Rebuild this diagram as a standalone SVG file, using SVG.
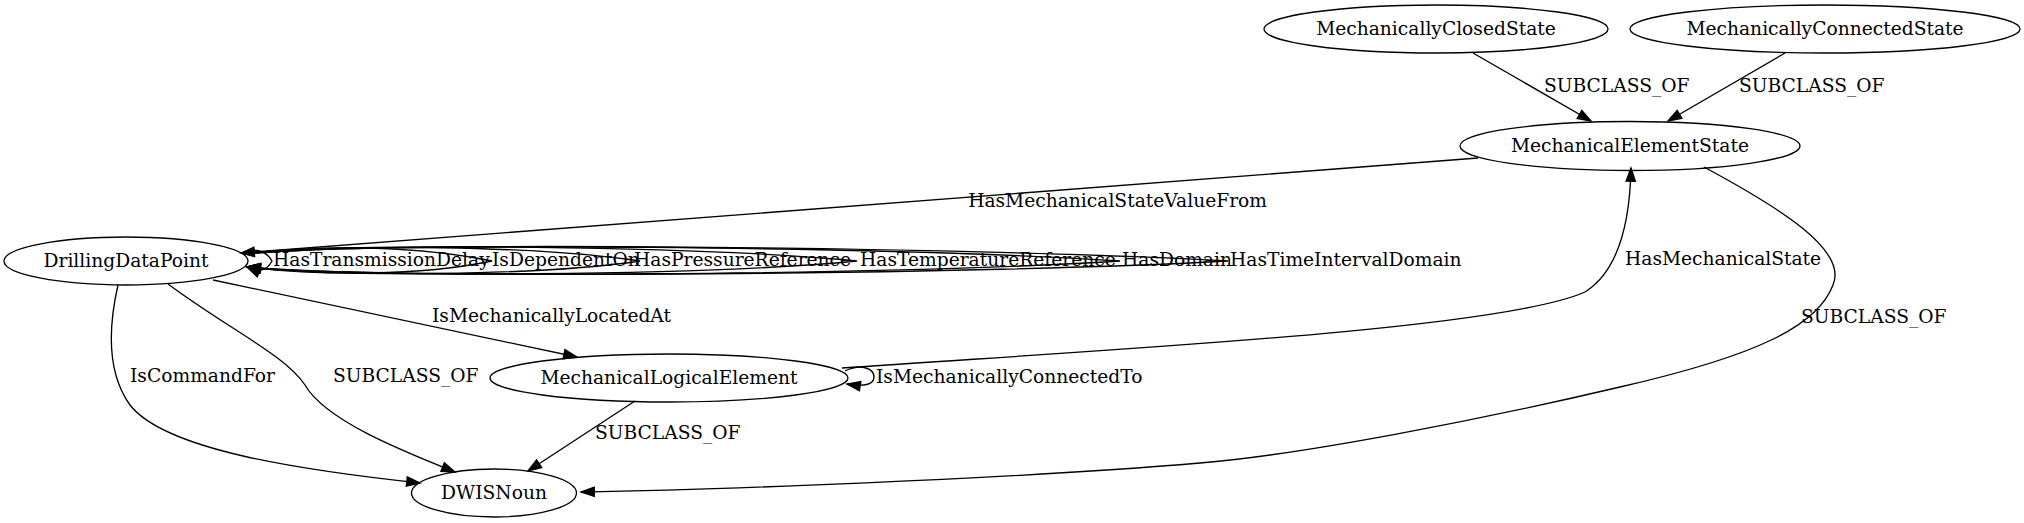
<svg xmlns="http://www.w3.org/2000/svg" width="2024" height="523" viewBox="0 0 2024 523">
<style>
text{font-family:"DejaVu Serif","Liberation Serif",serif;font-size:18.67px;fill:#000}
.n{text-anchor:middle}
ellipse{fill:none;stroke:#000;stroke-width:1.33}
.e path{fill:none;stroke:#000;stroke-width:1.33;marker-end:url(#a)}
</style>
<defs>
<marker id="a" markerUnits="userSpaceOnUse" markerWidth="14" markerHeight="10" refX="13.3" refY="4.67" orient="auto" overflow="visible">
<path d="M0,0 L13.3,4.67 L0,9.33 Z" fill="#000" stroke="#000" stroke-width="1.33"/>
</marker>
</defs>
<rect width="2024" height="523" fill="#fff"/>
<g id="edges" class="e">
<path d="M1473,53 L1591,121"/>
<path d="M1785,53 L1668,121"/>
<path d="M1478,158 L241,253"/>
<path d="M213,280 L577,357"/>
<path d="M118,285 C110,320 105,370 130,405 C165,450 300,470 420,483"/>
<path d="M168,284 C230,330 285,355 305,385 C325,420 400,450 455,472"/>
<path d="M635,401 L528,471"/>
<path d="M842,368 C1100,350 1500,330 1585,292 C1620,270 1630,220 1631,168"/>
<path d="M1704,167 C1780,208 1848,250 1833,285 C1818,325 1760,355 1620,387 C1480,420 1300,455 1200,463 C1000,480 700,490 581,492"/>
<path d="M845,371 C862,363 874,369 874,377 C874,384 866,387 847,384"/>
<path d="M244,254 C252,247 266,250 272,261 C266,272 258,272 247,267"/>
<path d="M244,254 C320,244 420,246 492,261 C420,276 320,276 247,267"/>
<path d="M244,254 C340,243 540,246 640,261 C540,276 340,277 247,267"/>
<path d="M244,254 C360,242 700,246 857,261 C700,276 360,278 247,267"/>
<path d="M244,254 C380,241 900,247 1120,261 C900,275 380,279 247,267"/>
<path d="M244,254 C400,240 1000,248 1228,261 C1000,274 400,280 247,267"/>
</g>
<g id="edge-labels">
<text x="1544" y="92">SUBCLASS_OF</text>
<text x="1739" y="92">SUBCLASS_OF</text>
<text x="1267" y="207" text-anchor="end">HasMechanicalStateValueFrom</text>
<text x="432" y="322">IsMechanicallyLocatedAt</text>
<text x="130" y="382">IsCommandFor</text>
<text x="333" y="382">SUBCLASS_OF</text>
<text x="595" y="439">SUBCLASS_OF</text>
<text x="1625" y="265">HasMechanicalState</text>
<text x="1801" y="323">SUBCLASS_OF</text>
<text x="876" y="383">IsMechanicallyConnectedTo</text>
<text x="273" y="266">HasTransmissionDelay</text>
<text x="492" y="266">IsDependentOn</text>
<text x="634" y="266">HasPressureReference</text>
<text x="860" y="266">HasTemperatureReference</text>
<text x="1122" y="266">HasDomain</text>
<text x="1230" y="266">HasTimeIntervalDomain</text>
</g>
<g id="MechanicallyClosedState"><ellipse cx="1436" cy="29" rx="172" ry="24"/><text class="n" x="1436" y="35">MechanicallyClosedState</text></g>
<g id="MechanicallyConnectedState"><ellipse cx="1825" cy="29" rx="195" ry="24"/><text class="n" x="1825" y="35">MechanicallyConnectedState</text></g>
<g id="MechanicalElementState"><ellipse cx="1630" cy="146" rx="170" ry="24.5"/><text class="n" x="1630" y="152">MechanicalElementState</text></g>
<g id="DrillingDataPoint"><ellipse cx="126" cy="261" rx="122" ry="24"/><text class="n" x="126" y="267">DrillingDataPoint</text></g>
<g id="MechanicalLogicalElement"><ellipse cx="669" cy="378" rx="179" ry="24"/><text class="n" x="669" y="384">MechanicalLogicalElement</text></g>
<g id="DWISNoun"><ellipse cx="494" cy="493" rx="82.5" ry="24"/><text class="n" x="494" y="499">DWISNoun</text></g>
</svg>
